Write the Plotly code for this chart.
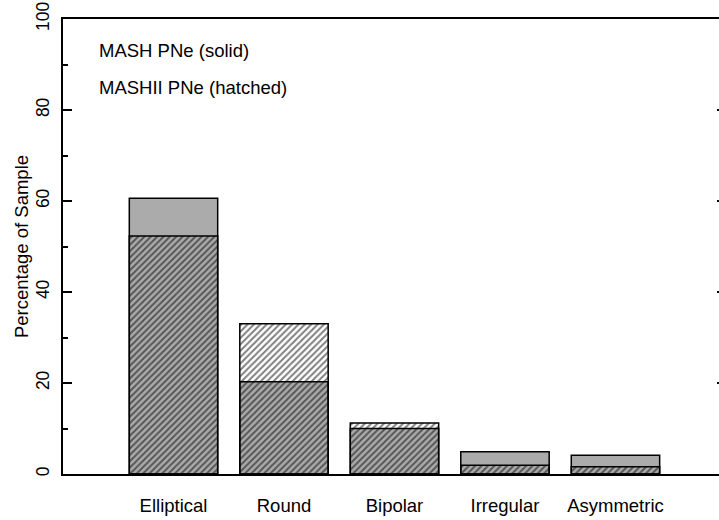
import plotly.graph_objects as go

categories = ["Elliptical", "Round", "Bipolar", "Irregular", "Asymmetric"]
mash_solid = [60.6, 20.3, 10.0, 4.9, 4.1]
mash2_hatched = [52.3, 33.0, 11.2, 1.9, 1.6]
y_ticks = [0, 20, 40, 60, 80, 100]

FONT = "Liberation Sans"
GRAY = "#ababab"
FS = 18.5

fig = go.Figure()
fig.add_trace(go.Bar(
    x=categories, y=mash_solid, width=0.8,
    marker=dict(color=GRAY, line=dict(color="black", width=1.5)),
    showlegend=False, name="MASH PNe",
))
fig.add_trace(go.Bar(
    x=categories, y=mash2_hatched, width=0.8,
    marker=dict(color="rgba(0,0,0,0)", line=dict(color="black", width=1.5),
                pattern=dict(shape="/", fgcolor="black", bgcolor="rgba(0,0,0,0)",
                             size=4.5, solidity=0.45, fillmode="overlay")),
    showlegend=False, name="MASHII PNe",
))
# invisible trace for right-hand tick marks
fig.add_trace(go.Scatter(x=[categories[0]], y=[0], yaxis="y2", mode="markers",
                         marker=dict(opacity=0), showlegend=False, hoverinfo="skip"))

fig.update_layout(
    width=719, height=520,
    margin=dict(l=63, r=0, t=19, b=46),
    paper_bgcolor="white", plot_bgcolor="white",
    barmode="overlay",
    font=dict(family=FONT, size=FS, color="black"),
    xaxis=dict(
        type="category", range=[-1, 4.937], automargin=False,
        showline=True, linecolor="black", linewidth=2, mirror=True,
        ticks="", showgrid=False, zeroline=False, ticklabelstandoff=14,
        tickfont=dict(family=FONT, size=FS),
    ),
    yaxis=dict(
        range=[0, 100], tickvals=y_ticks, ticktext=[str(v) for v in y_ticks],
        automargin=False, ticklabeloverflow="allow",
        ticks="inside", ticklen=9, tickwidth=1.5, tickcolor="black",
        minor=dict(dtick=10, ticks="inside", ticklen=5, tickwidth=1.5, tickcolor="black"),
        showline=True, linecolor="black", linewidth=2,
        showgrid=False, zeroline=False, tickangle=-90, ticklabelstandoff=5,
        tickfont=dict(family=FONT, size=17.5),
        title=dict(text="Percentage of Sample", font=dict(family=FONT, size=FS), standoff=0),
    ),
    yaxis2=dict(
        overlaying="y", side="right", range=[0, 100], tickvals=[20, 40, 60, 80],
        automargin=False,
        ticks="inside", ticklen=2, tickwidth=1.5, tickcolor="black",
        showticklabels=False, showline=False, showgrid=False, zeroline=False,
    ),
    annotations=[
        dict(text="MASH PNe (solid)", xref="paper", yref="paper", x=(97 - 63) / 656,
             y=(474 - 50.5) / 455, xanchor="left", yanchor="middle", showarrow=False,
             font=dict(family=FONT, size=FS)),
        dict(text="MASHII PNe (hatched)", xref="paper", yref="paper", x=(97 - 63) / 656,
             y=(474 - 87.5) / 455, xanchor="left", yanchor="middle", showarrow=False,
             font=dict(family=FONT, size=FS)),
    ],
)

fig.write_html("out.html", config={"displayModeBar": False},
               post_script="document.body.style.margin='0px';document.body.style.overflow='hidden';")
